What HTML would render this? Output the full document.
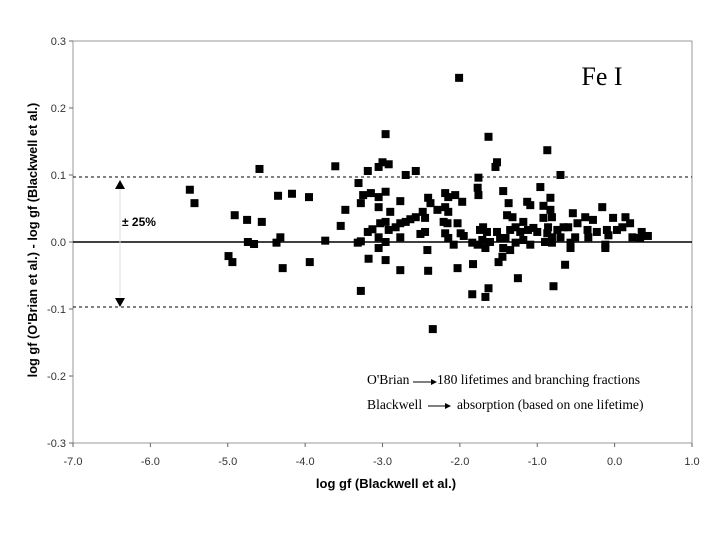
<!DOCTYPE html>
<html><head><meta charset="utf-8"><style>
body{margin:0;background:#fff;}
svg{display:block;font-family:"Liberation Sans",Arial,sans-serif;}
</style></head><body>
<svg id="chart" width="720" height="540" xmlns="http://www.w3.org/2000/svg">
<g id="frame"></g>
<g id="marks"></g>
<text x="602" y="85" font-family="Liberation Serif,serif" font-size="26" text-anchor="middle">Fe I</text>
<g>
<line x1="120" y1="188" x2="120" y2="300" stroke="#ddd" stroke-width="1"/>
<polygon points="115,189 125,189 120,180" fill="#000"/>
<polygon points="115,298 125,298 120,307" fill="#000"/>
<text x="122" y="226" font-size="12" font-weight="bold">± 25%</text>
</g>
<g font-family="Liberation Serif,serif" font-size="13.6">
<text x="367" y="384">O'Brian</text>
<line x1="413" y1="382" x2="431" y2="382" stroke="#000"/><polygon points="431,379 437,382 431,385" fill="#000"/>
<text x="437" y="384">180 lifetimes and branching fractions</text>
<text x="367" y="409">Blackwell</text>
<line x1="428" y1="406" x2="445" y2="406" stroke="#000"/><polygon points="445,403 451,406 445,409" fill="#000"/>
<text x="457" y="409">absorption (based on one lifetime)</text>
</g>
<text x="386" y="488" font-size="13" font-weight="bold" text-anchor="middle">log gf (Blackwell et al.)</text>
<text transform="translate(37,240) rotate(-90)" font-size="12.8" font-weight="bold" text-anchor="middle">log gf (O'Brian et al.) - log gf (Blackwell et al.)</text>
</svg>
<script>
const xTicks=[-7,-6,-5,-4,-3,-2,-1,0,1];
const yTicks=[0.3,0.2,0.1,0,-0.1,-0.2,-0.3];
const bandLimits=[0.097,-0.097];
const xVals=[-5.49,-5.43,-4.99,-4.94,-4.91,-4.75,-4.74,-4.66,-4.59,-4.56,-4.37,-4.32,-4.29,-4.35,-4.17,-3.95,-3.94,-3.74,
-3.61,-3.48,-3.54,-3.32,-3.28,-3.31,-3.28,-3.19,-3.25,-3.15,-3.05,-3.00,-2.92,-2.96,-3.05,-2.96,-3.05,-2.90,-3.19,-3.13,-3.03,-2.96,-3.05,-2.96,-3.05,-3.18,-2.96,-3.28,
-2.77,-2.70,-2.57,-2.77,-2.92,-2.83,-2.77,-2.70,-2.64,-2.57,-2.77,-2.51,-2.45,-2.45,-2.48,-2.41,-2.38,-2.29,-2.42,-2.41,
-2.19,-2.15,-2.06,-1.97,-2.19,-2.15,-2.21,-2.16,-2.03,-2.19,-2.15,-2.08,-1.99,-1.95,-2.03,-2.35,-2.01,
-1.84,-1.77,-1.74,-1.70,-1.65,-1.71,-1.67,-1.61,-1.52,-1.48,-1.76,-1.77,-1.76,-1.63,-1.52,-1.54,-1.44,-1.37,-1.39,-1.32,-1.28,-1.35,-1.41,-1.44,-1.45,-1.50,-1.28,-1.35,-1.25,-1.63,-1.67,-1.83,-1.84,
-1.18,-1.13,-1.09,-1.22,-1.12,-1.05,-1.00,-1.09,-1.18,-0.96,-0.87,-0.83,-0.92,-0.83,-0.92,-0.81,-0.86,-0.87,-0.81,-0.81,-0.90,
-0.70,-0.74,-0.70,-0.66,-0.60,-0.54,-0.48,-0.57,-0.57,-0.51,-0.64,-0.79,-0.38,-0.35,-0.28,-0.34,-0.23,-0.16,-0.10,-0.08,-0.12,-0.12,-0.02,0.03,0.10,0.14,0.20,0.23,0.35,0.33,0.43];
const yVals=[0.078,0.058,-0.021,-0.030,0.040,0.033,0.000,-0.003,0.109,0.030,-0.001,0.007,-0.039,0.069,0.072,0.067,-0.030,0.002,
0.113,0.048,0.024,-0.001,0.001,0.088,0.058,0.106,0.070,0.073,0.112,0.119,0.116,0.161,0.067,0.075,0.052,0.045,0.015,0.019,0.028,0.030,0.007,0.000,-0.009,-0.025,-0.027,-0.073,
0.061,0.100,0.106,-0.042,0.018,0.022,0.028,0.030,0.034,0.037,0.007,0.012,0.015,0.036,0.045,0.066,0.058,0.048,-0.012,-0.043,
0.073,0.067,0.070,0.060,0.052,0.045,0.030,0.028,0.028,0.013,0.006,-0.004,0.013,0.009,-0.039,-0.130,0.245,
-0.001,-0.004,0.018,0.022,0.015,0.003,-0.009,0.000,0.015,0.006,0.096,0.081,0.070,0.157,0.119,0.112,0.076,0.058,0.040,0.037,0.022,0.018,0.006,-0.009,-0.022,-0.030,-0.001,-0.012,-0.054,-0.069,-0.082,-0.033,-0.078,
0.030,0.060,0.055,0.015,0.018,0.021,0.015,-0.004,0.003,0.082,0.137,0.066,0.054,0.048,0.036,0.037,0.022,0.013,0.007,-0.001,0.000,
0.100,0.018,0.007,0.022,0.022,0.043,0.028,-0.001,-0.009,0.007,-0.034,-0.066,0.037,0.018,0.033,0.007,0.015,0.052,0.018,0.010,-0.009,-0.004,0.036,0.018,0.022,0.037,0.028,0.007,0.015,0.006,0.009];

const NS='http://www.w3.org/2000/svg';
const X0=73,X1=692,Y0=41,Y1=443;
const sx=v=>X0+(v+7)/8*(X1-X0);
const sy=v=>Y0+(0.3-v)/0.6*(Y1-Y0);
function mk(tag,attrs,parent){const e=document.createElementNS(NS,tag);for(const k in attrs)e.setAttribute(k,attrs[k]);parent.appendChild(e);return e;}
const frame=document.getElementById('frame');
const box=mk('rect',{x:X0,y:Y0,width:X1-X0,height:Y1-Y0,fill:'none',stroke:'#999','stroke-width':1},frame);


yTicks.forEach(t=>{
  const y=sy(t);
  const tk=mk('line',{x1:X0-4,y1:y,x2:X0,y2:y,stroke:'#666'},frame);
  
  
  const lb=mk('text',{x:X0-7,y:y+4,'font-size':11,'text-anchor':'end',fill:'#333'},frame);
  
  
  lb.textContent=t.toFixed(1);
});
xTicks.forEach(t=>{
  const x=sx(t);
  const tk=mk('line',{x1:x,y1:Y1,x2:x,y2:Y1+4,stroke:'#666'},frame);
  
  
  const lb=mk('text',{x:x,y:Y1+22,'font-size':11,'text-anchor':'middle',fill:'#333'},frame);
  
  
  lb.textContent=t.toFixed(1);
});
const zl=mk('line',{x1:X0,y1:sy(0),x2:X1,y2:sy(0),stroke:'#000','stroke-width':1.5},frame);


bandLimits.forEach(b=>{
  const l=mk('line',{x1:X0,y1:sy(b),x2:X1,y2:sy(b),stroke:'#000','stroke-width':1,'stroke-dasharray':'3,3'},frame);
  
  
});
const marks=document.getElementById('marks');
xVals.forEach((v,i)=>{
  const r=mk('rect',{x:sx(v)-4,y:sy(yVals[i])-4,width:8,height:8,fill:'#000'},marks);
  
  
});
</script>
</body></html>
